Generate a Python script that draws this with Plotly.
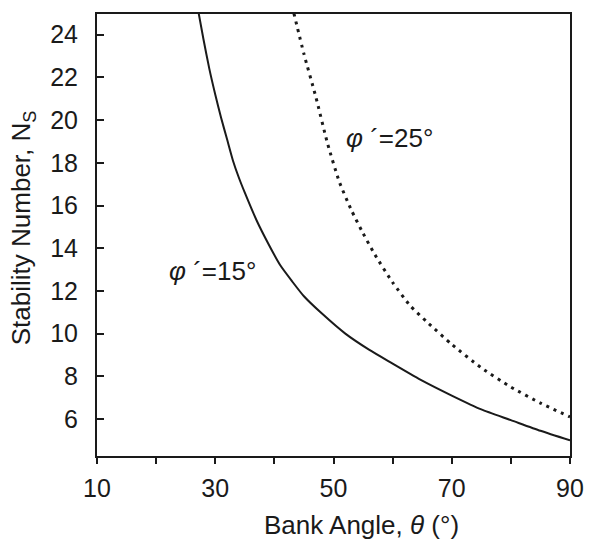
import plotly.graph_objects as go

# phi' = 15 deg (solid)
theta_15 = [27.2, 28, 29, 30, 31, 32, 33, 34, 35, 37, 39, 41, 43, 45, 48, 52, 56, 60, 65, 70, 75, 80, 85, 90]
ns_15 = [25.0, 23.8, 22.4, 21.2, 20.1, 19.1, 18.1, 17.3, 16.6, 15.3, 14.2, 13.2, 12.45, 11.75, 10.95, 10.0, 9.25, 8.6, 7.8, 7.1, 6.45, 5.95, 5.45, 5.0]

# phi' = 25 deg (dotted)
theta_25 = [43.3, 45, 47, 49, 51, 53, 55, 57, 60, 63, 66, 70, 75, 80, 85, 90]
ns_25 = [25.0, 23.1, 21.1, 18.9, 17.1, 15.8, 14.7, 13.7, 12.4, 11.3, 10.5, 9.5, 8.4, 7.5, 6.75, 6.1]

x_major_ticks = [10, 30, 50, 70, 90]
x_minor_ticks = [20, 40, 60, 80]
y_ticks = [6, 8, 10, 12, 14, 16, 18, 20, 22, 24]

x_title = "Bank Angle, <i>θ</i> (°)"
y_title = "Stability Number, N<sub>S</sub>"
label_15 = "<i>φ</i> ´=15°"
label_25 = "<i>φ</i> ´=25°"

FONT = "Liberation Sans, Arial, Helvetica, sans-serif"
INK = "#1a1a1a"

fig = go.Figure()
fig.add_trace(go.Scatter(x=theta_15, y=ns_15, mode="lines", line_shape="spline",
                         line=dict(color=INK, width=2, smoothing=0.6), showlegend=False))
fig.add_trace(go.Scatter(x=theta_25, y=ns_25, mode="lines", line_shape="spline",
                         line=dict(color=INK, width=3, dash="3px,5px", smoothing=0.6), showlegend=False))

fig.add_annotation(x=21.8, y=12.93, text=label_15, showarrow=False,
                   xanchor="left", yanchor="middle", font=dict(size=26, color=INK, family=FONT))
fig.add_annotation(x=51.7, y=19.16, text=label_25, showarrow=False,
                   xanchor="left", yanchor="middle", font=dict(size=26, color=INK, family=FONT))

# axis titles placed as paper annotations
fig.add_annotation(xref="paper", yref="paper", x=0.56, y=-0.155, text=x_title,
                   showarrow=False, xanchor="center", yanchor="middle",
                   font=dict(size=26, color=INK, family=FONT))
fig.add_annotation(xref="paper", yref="paper", x=-0.157, y=0.517, text=y_title,
                   showarrow=False, xanchor="center", yanchor="middle", textangle=-90,
                   font=dict(size=26, color=INK, family=FONT))

fig.update_xaxes(range=[10, 90], tickvals=x_major_ticks,
                 ticks="outside", ticklen=6, tickwidth=1.5, tickcolor=INK,
                 minor=dict(tickvals=x_minor_ticks, ticks="outside", ticklen=6, tickwidth=1.5, tickcolor=INK),
                 ticklabelstandoff=3,
                 showline=True, linecolor=INK, linewidth=2, mirror=True,
                 showgrid=False, zeroline=False,
                 tickfont=dict(size=25, color=INK, family=FONT))
fig.update_yaxes(range=[4.27, 24.97], tickvals=y_ticks,
                 ticks="inside", ticklen=7, tickwidth=1.5, tickcolor=INK,
                 ticklabelstandoff=12,
                 showline=True, linecolor=INK, linewidth=2, mirror=True,
                 showgrid=False, zeroline=False,
                 tickfont=dict(size=25, color=INK, family=FONT))

fig.update_layout(width=596, height=541, margin=dict(l=97, r=20, t=13, b=85),
                  plot_bgcolor="white", paper_bgcolor="white")

fig.write_html("out.html")
